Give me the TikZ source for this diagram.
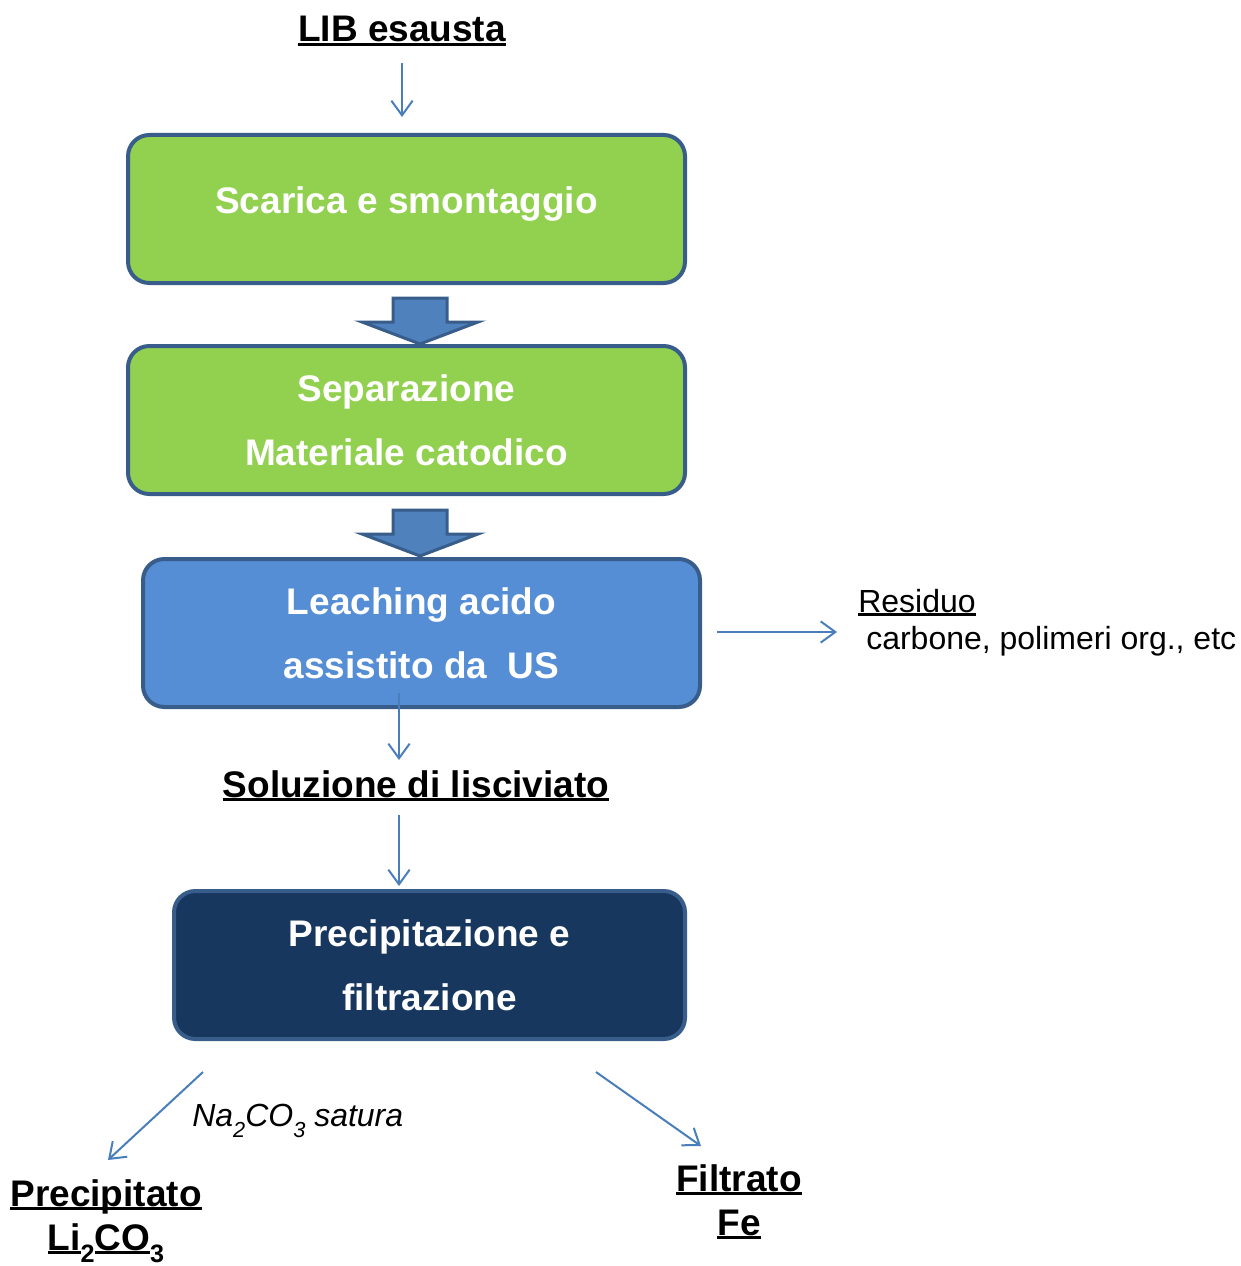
\documentclass[tikz,border=0pt]{standalone}
\usepackage{fontspec}
\setmainfont{Liberation Sans}
\usetikzlibrary{arrows.meta,calc}
\definecolor{grass}{HTML}{92D050}
\definecolor{navyline}{HTML}{385D8A}
\definecolor{sky}{HTML}{558ED5}
\definecolor{night}{HTML}{17375E}
\definecolor{steel}{HTML}{4F81BD}
\definecolor{wire}{HTML}{4A7EBB}
% underline at a fixed depth, and lowered subscripts
\newcommand\ulx[1]{\leavevmode\setbox0\hbox{#1}\rlap{\rule[-0.12em]{\wd0}{0.08em}}\box0}
\newcommand\lowsub[1]{\raisebox{-0.35em}{\scalebox{0.68}{#1}}}
\tikzset{
  >={Straight Barb[length=11pt,width=16pt]},
  box/.style={draw=navyline,fill=#1,line width=3pt,rounded corners=16pt,outer sep=0pt,
    minimum width=417.75pt,minimum height=111pt,align=center,text=white,
    font=\fontsize{27.75}{48}\selectfont\bfseries},
  box/.default=grass,
  flow/.style={->,draw=wire,line width=1.5pt},
  head/.style={inner sep=0pt,align=center,font=\fontsize{27.75}{33}\selectfont\bfseries},
  tag/.style={inner sep=0pt,align=left,font=\fontsize{24}{27.75}\selectfont},
  fat/.style={fill=steel,draw=navyline,line width=2.25pt,line join=miter},
  % block arrow between boxes
  pics/fatarrow/.style={code={
    \draw[fat] (-27,0) -- (27,0) -- (27,24) -- (58,24) -- (0,46) -- (-58,24) -- (-27,24) -- cycle;
  }},
}
\begin{document}
\begin{tikzpicture}[x=0.75pt,y=-0.75pt]
  \useasboundingbox (0,0) rectangle (1240,1266);
  \node[head,anchor=base] (lib) at (402,42) {\ulx{LIB esausta}};
  \node[box=grass] (sc) at (406.5,209) {\raisebox{13.5pt}{Scarica e smontaggio}};
  \node[box=grass] (sep) at (406.5,420) {Separazione\\Materiale catodico};
  \node[box=sky] (lea) at (421.5,633) {Leaching acido\\assistito da~~US};
  \node[head,anchor=base] (sol) at (416,797) {\ulx{Soluzione di lisciviato}};
  \node[box=night,minimum width=383.25pt] (pre) at (429.5,965) {Precipitazione e\\filtrazione};
  \node[tag,anchor=base west] (res) at (858,649) {\ulx{Residuo}\\\hspace{6pt}carbone, polimeri org., etc};
  \node[tag,anchor=base west,font=\fontsize{24}{27.75}\selectfont\itshape] (na) at (192,1126) {Na\lowsub{2}CO\lowsub{3} satura};
  \node[head,anchor=base] (ppt) at (106,1250) {\ulx{Precipitato}\\\ulx{Li}\lowsub{2}\ulx{CO}\lowsub{3}};
  \node[head,anchor=base] (fil) at (739,1235) {\ulx{Filtrato}\\\ulx{Fe}};

  \pic at ($(sc.south)+(13.5,15)$) {fatarrow};
  \pic at ($(sep.south)+(13.5,16)$) {fatarrow};

  \draw[flow] ($(lib.south)+(0,16.5)$) -- ($(sc.north)+(-4.5,-18)$);
  \draw[flow] ($(lea.south)+(-22.5,-14)$) -- ($(sol.base)+(-17,-37)$);
  \draw[flow] ($(sol.base)+(-17,18)$) -- ($(pre.north)+(-30.5,-5)$);
  \draw[flow] ($(lea.east)+(17,-1)$) -- ($(res.base west)+(-21,-17)$);
  \draw[flow] ($(pre.south west)+(29,33)$) -- ($(ppt.base)+(2,-90)$);
  \draw[flow] ($(pre.south)+(166.5,33)$) -- ($(fil.base)+(-38,-89)$);
\end{tikzpicture}
\end{document}
